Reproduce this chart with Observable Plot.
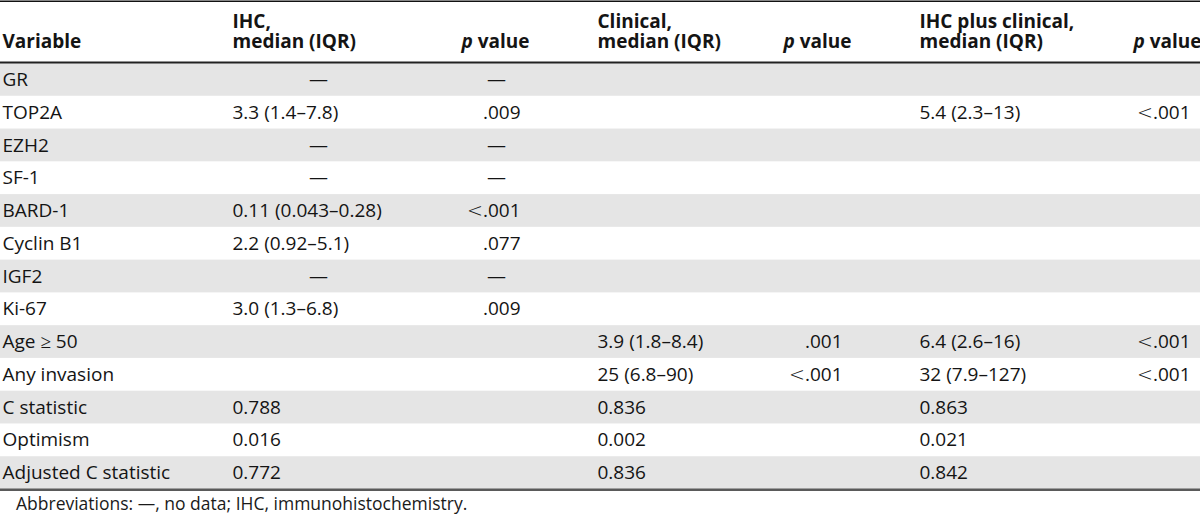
<!DOCTYPE html>
<html>
<head>
<meta charset="utf-8">
<script src="https://cdn.jsdelivr.net/npm/d3@7"></script>
<script src="https://cdn.jsdelivr.net/npm/@observablehq/plot@0.6"></script>
<style>
  html, body { margin: 0; padding: 0; background: #fff; }
  figure { margin: 0; }
  figcaption {
    font-family: "Open Sans", sans-serif;
    font-size: 17.5px;
    line-height: 24px;
    color: #1a1a1a;
    padding-left: 16px;
    white-space: nowrap;
  }
</style>
</head>
<body>
<div id="chart"></div>
<script>
// ---------- data ----------
const variables = ["GR", "TOP2A", "EZH2", "SF-1", "BARD-1", "Cyclin B1", "IGF2", "Ki-67",
  "Age \u2265 50", "Any invasion", "C statistic", "Optimism", "Adjusted C statistic"];
const ihcMedian = ["\u2014", "3.3 (1.4\u20137.8)", "\u2014", "\u2014", "0.11 (0.043\u20130.28)", "2.2 (0.92\u20135.1)",
  "\u2014", "3.0 (1.3\u20136.8)", "", "", "0.788", "0.016", "0.772"];
const ihcP = ["\u2014", ".009", "\u2014", "\u2014", "<.001", ".077", "\u2014", ".009", "", "", "", "", ""];
const clinicalMedian = ["", "", "", "", "", "", "", "", "3.9 (1.8\u20138.4)", "25 (6.8\u201390)", "0.836", "0.002", "0.836"];
const clinicalP = ["", "", "", "", "", "", "", "", ".001", "<.001", "", "", ""];
const combinedMedian = ["", "5.4 (2.3\u201313)", "", "", "", "", "", "", "6.4 (2.6\u201316)", "32 (7.9\u2013127)", "0.863", "0.021", "0.842"];
const combinedP = ["", "<.001", "", "", "", "", "", "", "<.001", "<.001", "", "", ""];
const headerLine1 = ["", "IHC,", "", "Clinical,", "", "IHC plus clinical,", ""];
const headerLine2 = ["Variable", "median (IQR)", "p value", "median (IQR)", "p value", "median (IQR)", "p value"];
const footnote = "Abbreviations: \u2014, no data; IHC, immunohistochemistry.";

// ---------- layout ----------
const W = 1200, H = 491;
const rowTop = 63, rowBottom = 489;
const n = variables.length;
const unit = (rowBottom - rowTop) / n;
const columns = [
  {values: variables,      x: 2,    anchor: "start", dashX: null, headX: 2,    headAnchor: "start"},
  {values: ihcMedian,      x: 232,  anchor: "start", dashX: 318,  headX: 232,  headAnchor: "start"},
  {values: ihcP,           x: 520,  anchor: "end",   dashX: 496,  headX: 529,  headAnchor: "end"},
  {values: clinicalMedian, x: 597,  anchor: "start", dashX: null, headX: 597,  headAnchor: "start"},
  {values: clinicalP,      x: 842,  anchor: "end",   dashX: null, headX: 851,  headAnchor: "end"},
  {values: combinedMedian, x: 919,  anchor: "start", dashX: null, headX: 919,  headAnchor: "start"},
  {values: combinedP,      x: 1190, anchor: "end",   dashX: null, headX: 1201, headAnchor: "end"}
];

const cells = columns.flatMap((c) => c.values.map((v, row) => ({
  text: v, row, dash: v === "\u2014",
  x: v === "\u2014" ? c.dashX : c.x, anchor: c.anchor
}))).filter(d => d.text !== "");

const headers = columns.map((c, i) => ({
  text: headerLine1[i] ? headerLine1[i] + "\n" + headerLine2[i] : headerLine2[i],
  two: !!headerLine1[i], x: c.headX, anchor: c.headAnchor
}));

const shaded = d3.range(n).filter(i => i % 2 === 0);

const font = "Open Sans";
const fs = 19;
const ink = "#141414";

const bodyText = (data, anchor) => Plot.text(data, {
  x: "x", y: d => d.row + 0.5, text: "text", textAnchor: anchor,
  fontSize: fs, fill: ink, fontFamily: font
});
const headText = (data, anchor, dy) => Plot.text(data, {
  x: "x", text: "text", frameAnchor: "top", lineAnchor: "top", dy,
  lineHeight: 20 / fs, textAnchor: anchor, fontSize: fs, fontWeight: "bold",
  fill: ink, fontFamily: font
});

const plot = Plot.plot({
  width: W, height: H,
  margin: 0,
  x: {domain: [0, W], range: [0, W], axis: null},
  y: {domain: [0, n], range: [rowTop, rowBottom], axis: null},
  style: {fontFamily: font, background: "#fff"},
  caption: footnote,
  marks: [
    Plot.rect(shaded, {y1: d => d, y2: d => d + 1, x1: () => 0, x2: () => W, fill: "#e5e5e5"}),
    Plot.ruleY([-rowTop / unit], {stroke: "#111", strokeWidth: 1.5, dy: 0.75}),
    Plot.ruleY([0], {stroke: "#222", strokeWidth: 2, dy: -1}),
    Plot.ruleY([n], {stroke: "#5a5a5a", strokeWidth: 3, dy: 0.5}),
    // body text
    bodyText(cells.filter(d => !d.dash && d.anchor === "start"), "start"),
    bodyText(cells.filter(d => !d.dash && d.anchor === "end"), "end"),
    bodyText(cells.filter(d => d.dash), "middle"),
    // headers
    headText(headers.filter(d => d.two), "start", 13.5),
    headText(headers.filter(d => !d.two && d.anchor === "start"), "start", 33.5),
    headText(headers.filter(d => !d.two && d.anchor === "end"), "end", 33.5)
  ]
});

const SVGNS = "http://www.w3.org/2000/svg";
function mathSpan(ch) {
  const ts = document.createElementNS(SVGNS, "tspan");
  ts.setAttribute("font-family", "DejaVu Sans");
  ts.setAttribute("font-weight", "200");
  ts.textContent = ch;
  return ts;
}
plot.querySelectorAll("text").forEach(t => {
  if (t.children.length !== 0) return;
  const s = t.textContent;
  if (s === "p value") {
    // italic "p" in the p value headers
    t.textContent = "";
    const ts = document.createElementNS(SVGNS, "tspan");
    ts.setAttribute("font-style", "italic");
    ts.textContent = "p";
    t.appendChild(ts);
    t.appendChild(document.createTextNode(" value"));
  } else if (s.startsWith("<")) {
    // thin math-style less-than sign
    t.textContent = "";
    t.appendChild(mathSpan("<"));
    t.appendChild(document.createTextNode(s.slice(1)));
  } else if (s.includes("\u2265")) {
    const [a, b] = s.split("\u2265");
    t.textContent = "";
    t.appendChild(document.createTextNode(a));
    t.appendChild(mathSpan("\u2265"));
    t.appendChild(document.createTextNode(b));
  }
});
document.getElementById("chart").appendChild(plot);
</script>
</body>
</html>
